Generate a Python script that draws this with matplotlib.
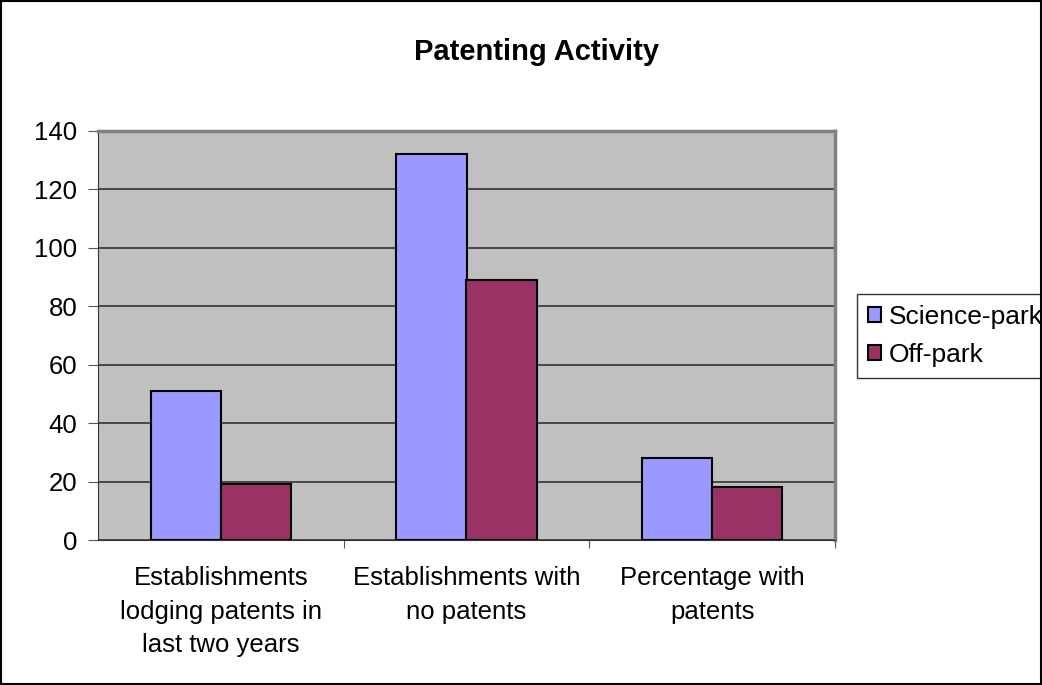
import numpy as np
import matplotlib.pyplot as plt
from matplotlib.patches import Rectangle

plt.rcParams['font.family'] = ['Liberation Sans', 'DejaVu Sans']

categories = ['Establishments\nlodging patents in\nlast two years',
              'Establishments with\nno patents',
              'Percentage with\npatents']
science_park = [51, 132, 28]
off_park = [19, 89, 18]

fig = plt.figure(figsize=(10.42, 6.85), dpi=100)
ax = fig.add_axes([98 / 1042, 1 - 540 / 685, (835 - 98) / 1042, (540 - 131) / 685])

x = np.arange(len(categories))
w = 0.285
ax.bar(x - w / 2, science_park, w, color='#9999FF', edgecolor='black', linewidth=1.5,
       label='Science-park', zorder=3)
ax.bar(x + w / 2, off_park, w, color='#993366', edgecolor='black', linewidth=1.5,
       label='Off-park', zorder=3)

ax.set_facecolor('#C0C0C0')
ax.set_xlim(-0.5, 2.5)
ax.set_ylim(0, 140)
ax.set_yticks(range(0, 141, 20))
ax.yaxis.grid(True, color='#333333', linewidth=1.2, zorder=1)
ax.set_axisbelow(True)

# category labels sit between boundary ticks
ax.set_xticks([0.5, 1.5, 2.5], minor=False)
ax.set_xticklabels([])
ax.set_xticks(x, minor=True)
ax.set_xticklabels(categories, minor=True, fontsize=18.5, linespacing=1.5)
ax.tick_params(axis='x', which='minor', length=0, pad=19)
ax.tick_params(axis='x', which='major', length=6, color='#555555', direction='out')
ax.tick_params(axis='y', length=7, color='#555555', labelsize=18.5, pad=8)

for side in ['top', 'right']:
    ax.spines[side].set_color('#808080')
    ax.spines[side].set_linewidth(2.5)
ax.spines['left'].set_color('#333333')
ax.spines['bottom'].set_color('#333333')

fig.text(537 / 1042, 1 - 52 / 685, 'Patenting Activity', fontsize=21, fontweight='bold',
         ha='center', va='center')

leg = ax.legend(loc='upper left', bbox_to_anchor=(857 / 1042, 1 - 294 / 685),
                bbox_transform=fig.transFigure, fontsize=19, frameon=True,
                fancybox=False, edgecolor='black', handlelength=0.5, handleheight=0.5,
                handletextpad=0.3, borderpad=0.4, labelspacing=0.55, borderaxespad=0)
leg.get_frame().set_linewidth(1)

fig.patches.append(Rectangle((0.001, 0.001), 0.998, 0.997, transform=fig.transFigure,
                             fill=False, edgecolor='black', linewidth=1.5))

fig.savefig('out.png', dpi=100)
